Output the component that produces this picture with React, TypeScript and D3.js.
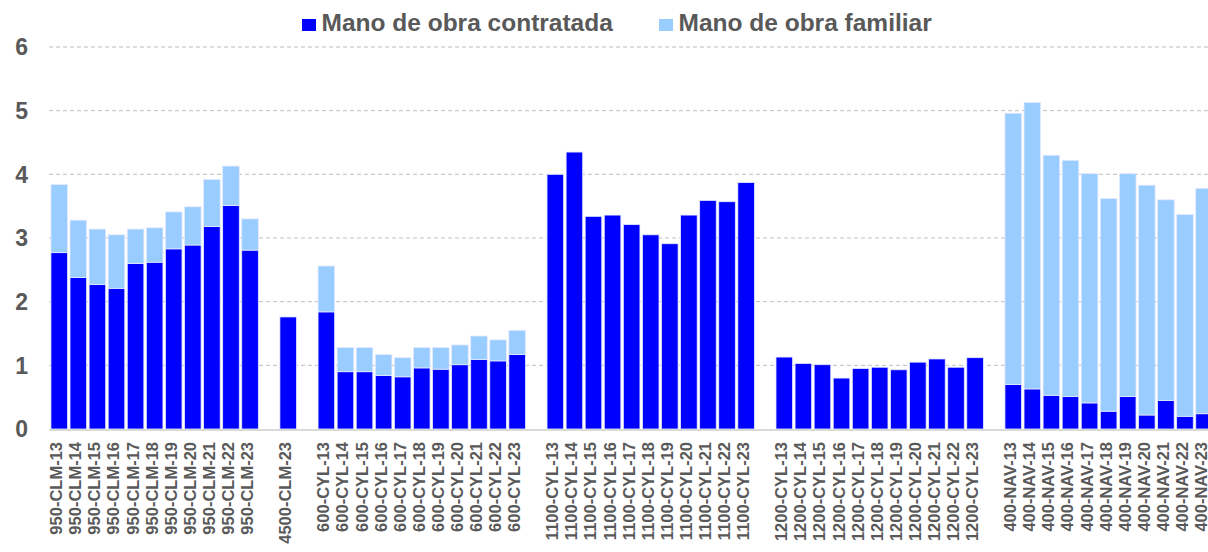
import * as d3 from 'd3';

const width = 1208;
const height = 552;

// "" = empty slot between groups
const categories = [
    '950-CLM-13', '950-CLM-14', '950-CLM-15', '950-CLM-16', '950-CLM-17', '950-CLM-18',
    '950-CLM-19', '950-CLM-20', '950-CLM-21', '950-CLM-22', '950-CLM-23',
    '',
    '4500-CLM-23',
    '',
    '600-CYL-13', '600-CYL-14', '600-CYL-15', '600-CYL-16', '600-CYL-17', '600-CYL-18',
    '600-CYL-19', '600-CYL-20', '600-CYL-21', '600-CYL-22', '600-CYL-23',
    '',
    '1100-CYL-13', '1100-CYL-14', '1100-CYL-15', '1100-CYL-16', '1100-CYL-17', '1100-CYL-18',
    '1100-CYL-19', '1100-CYL-20', '1100-CYL-21', '1100-CYL-22', '1100-CYL-23',
    '',
    '1200-CYL-13', '1200-CYL-14', '1200-CYL-15', '1200-CYL-16', '1200-CYL-17', '1200-CYL-18',
    '1200-CYL-19', '1200-CYL-20', '1200-CYL-21', '1200-CYL-22', '1200-CYL-23',
    '',
    '400-NAV-13', '400-NAV-14', '400-NAV-15', '400-NAV-16', '400-NAV-17', '400-NAV-18',
    '400-NAV-19', '400-NAV-20', '400-NAV-21', '400-NAV-22', '400-NAV-23',
];

const contratada = [
    2.77, 2.38, 2.27, 2.21, 2.60, 2.62, 2.83, 2.89, 3.18, 3.51, 2.81,
    0,
    1.76,
    0,
    1.84, 0.90, 0.90, 0.84, 0.82, 0.96, 0.94, 1.01, 1.09, 1.07, 1.17,
    0,
    4.00, 4.35, 3.34, 3.36, 3.21, 3.05, 2.91, 3.36, 3.59, 3.57, 3.87,
    0,
    1.13, 1.03, 1.01, 0.80, 0.95, 0.97, 0.93, 1.05, 1.10, 0.97, 1.12,
    0,
    0.70, 0.63, 0.53, 0.51, 0.41, 0.28, 0.51, 0.22, 0.45, 0.20, 0.24,
];

const familiar = [
    1.07, 0.90, 0.87, 0.84, 0.54, 0.54, 0.58, 0.60, 0.74, 0.62, 0.49,
    0,
    0,
    0,
    0.72, 0.38, 0.38, 0.33, 0.30, 0.32, 0.34, 0.31, 0.37, 0.33, 0.38,
    0,
    0, 0, 0, 0, 0, 0, 0, 0, 0, 0, 0,
    0,
    0, 0, 0, 0, 0, 0, 0, 0, 0, 0, 0,
    0,
    4.26, 4.50, 3.77, 3.71, 3.60, 3.34, 3.50, 3.61, 3.15, 3.17, 3.54,
];

const yTicks = [0, 1, 2, 3, 4, 5, 6];
const seriesNames = ['Mano de obra contratada', 'Mano de obra familiar'];
const colors = ['#0000ff', '#99ccff'];

const font = 'Arial, "Liberation Sans", sans-serif';
const textColor = '#595959';

const x0 = 49.7;
const step = 19.08;
const x = d3.scaleBand<number>()
    .domain(d3.range(categories.length))
    .range([x0, x0 + step * categories.length])
    .paddingInner(0.13)
    .paddingOuter(0.065);

const y = d3.scaleLinear().domain([0, 6]).range([429, 47]);

export default function App() {
    const rows = categories.map((c, i) => ({ c, i, a: contratada[i], b: familiar[i] }));
    const stacked = d3.stack<any>().keys(['a', 'b'])(rows);

    return (
        <svg width={width} height={height} style={{ display: 'block', position: 'absolute', left: 0, top: 0 }}
             fontFamily={font}>
            {/* grid */}
            {yTicks.filter(t => t > 0).map(t => (
                <line key={t} x1={49} x2={width} y1={y(t)} y2={y(t)}
                      stroke="#bfbfbf" strokeWidth={1} strokeDasharray="4 3"/>
            ))}
            {/* bars */}
            {stacked.map((s, si) => (
                <g key={si} fill={colors[si]}>
                    {s.map((d, i) => (d[1] - d[0] > 0 ?
                        <rect key={i} x={x(i)} width={x.bandwidth()}
                              y={y(d[1])} height={y(d[0]) - y(d[1])}
                              stroke="#e3e9ff" strokeWidth={0.8}/> : null))}
                </g>
            ))}
            <line x1={49} x2={width} y1={430} y2={430} stroke="#d9d9d9" strokeWidth={2}/>
            {/* y axis labels */}
            {yTicks.map(t => (
                <text key={t} x={28} y={y(t)} dy="0.36em" textAnchor="end" fontSize={23}
                      fontWeight="bold" fill={textColor}>{t}</text>
            ))}
            {/* x labels */}
            {categories.map((c, i) => c ? (
                <text key={i} transform={`translate(${x(i)! + x.bandwidth() / 2 + 3},442) rotate(-90)`}
                      textAnchor="end" fontSize={16.5} fontWeight="bold" fill={textColor}>{c}</text>
            ) : null)}
            {/* legend */}
            {seriesNames.map((n, i) => {
                const lx = [302, 659][i];
                return (
                    <g key={n}>
                        <rect x={lx} y={19} width={14} height={12} fill={colors[i]}/>
                        <text x={lx + 19.5} y={31} fontSize={24.5} fontWeight="bold" fill={textColor}>{n}</text>
                    </g>
                );
            })}
        </svg>
    );
}
